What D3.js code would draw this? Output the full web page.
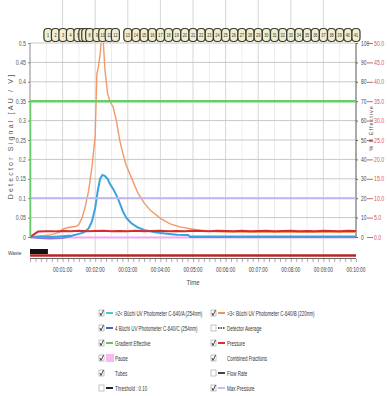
<!DOCTYPE html>
<html>
<head>
<meta charset="utf-8">
<script src="https://cdn.jsdelivr.net/npm/d3@7"></script>
<style>
  body { margin: 0; background: #fff; }
  text { font-family: 'Liberation Sans', Arial, sans-serif; }
</style>
</head>
<body>
<svg id="chart" width="388" height="396"></svg>
<script>
// ---- data (time in minutes) ----
const orangeT = [0, 0.3, 0.6, 0.9, 1.0, 1.2, 1.4, 1.5, 1.6, 1.7, 1.8, 1.9, 2.0, 2.05, 2.1, 2.15, 2.2, 2.25, 2.3, 2.38, 2.45, 2.55, 2.65, 2.75, 2.85, 2.95, 3.1, 3.3, 3.5, 3.7, 4.0, 4.3, 4.6, 5.0, 5.5, 6.0, 7.0, 8.0, 9.0, 10.0];
const orangeV = [0, 0.002, 0.005, 0.012, 0.02, 0.025, 0.027, 0.032, 0.05, 0.08, 0.12, 0.18, 0.26, 0.42, 0.44, 0.47, 0.52, 0.5, 0.43, 0.37, 0.35, 0.335, 0.30, 0.25, 0.215, 0.185, 0.155, 0.115, 0.088, 0.068, 0.048, 0.034, 0.026, 0.02, 0.015, 0.013, 0.012, 0.012, 0.012, 0.012];

const blueT = [0, 0.3, 0.6, 1.0, 1.3, 1.5, 1.65, 1.8, 1.9, 2.0, 2.08, 2.15, 2.22, 2.3, 2.38, 2.45, 2.55, 2.65, 2.75, 2.85, 2.95, 3.1, 3.3, 3.5, 3.8, 4.0, 4.5, 4.85, 4.9, 10.0];
const blueV = [0, 0.001, 0.0, 0.002, 0.004, 0.008, 0.012, 0.022, 0.04, 0.075, 0.12, 0.15, 0.16, 0.157, 0.15, 0.137, 0.124, 0.108, 0.088, 0.066, 0.05, 0.036, 0.025, 0.018, 0.013, 0.01, 0.006, 0.005, 0.001, 0.001];

// C-640/C trace: only visible off-peak (hidden under the A trace in the middle)
const darkBlueT = [0, 0.3, 0.6, 1.0, 1.3, 4.85, 4.9, 6.0, 8.0, 10.0];
const darkBlueV = [0, -0.003, -0.004, -0.003, 0.003, null, 0.0, 0.0, 0.0, 0.0];

// pressure in bar (right outer axis 0-50)
const pressT = [0, 0.25, 0.5, 0.75, 1.0, 1.25, 1.5, 1.75, 2.0, 2.25, 2.5, 2.75, 3.0, 3.25, 3.5, 3.75, 4.0, 4.25, 4.5, 4.75, 5.0, 5.25, 5.5, 5.75, 6.0, 6.25, 6.5, 6.75, 7.0, 7.25, 7.5, 7.75, 8.0, 8.25, 8.5, 8.75, 9.0, 9.25, 9.5, 9.75, 10.0];
const pressV = [0, 1.4, 1.5, 1.45, 1.55, 1.5, 1.6, 1.5, 1.55, 1.6, 1.5, 1.55, 1.5, 1.6, 1.5, 1.55, 1.6, 1.5, 1.55, 1.5, 1.6, 1.55, 1.5, 1.6, 1.55, 1.5, 1.6, 1.5, 1.55, 1.6, 1.5, 1.55, 1.6, 1.5, 1.55, 1.5, 1.6, 1.55, 1.5, 1.6, 1.55];

const gradT = [0, 0, 10];
const gradV = [0, 70, 70];
const maxPressT = [0, 10];
const maxPressV = [10, 10];
const pauseT = [0, 10];
const pauseV = [-0.001, -0.001];
const wasteT = [0, 0.55];

const tubeNames = d3.range(1, 42).map(String);
const tubeT = [0.55, 0.78, 1.01, 1.24, 1.47, 1.62, 1.71, 1.83, 2.05, 2.23, 2.43, 2.62, 3.0, 3.25, 3.5, 3.75, 4.0, 4.25, 4.5, 4.75, 5.0, 5.25, 5.5, 5.75, 6.0, 6.25, 6.5, 6.75, 7.0, 7.25, 7.5, 7.75, 8.0, 8.25, 8.5, 8.75, 9.0, 9.25, 9.5, 9.75, 10.0];

const yTicks = [0, 0.05, 0.1, 0.15, 0.2, 0.25, 0.3, 0.35, 0.4, 0.45, 0.5];
const yTickLabels = ["0", "0.05", "0.1", "0.15", "0.2", "0.25", "0.3", "0.35", "0.4", "0.45", "0.5"];
const pctTicks = [0, 10, 20, 30, 40, 50, 60, 70, 80, 90, 100];
const pressTicks = [0, 5, 10, 15, 20, 25, 30, 35, 40, 45, 50];
const pressTickLabels = ["0.0", "5.0", "10.0", "15.0", "20.0", "25.0", "30.0", "35.0", "40.0", "45.0", "50.0"];
const timeTicks = [1, 2, 3, 4, 5, 6, 7, 8, 9, 10];
const timeTickLabels = ["00:01:00", "00:02:00", "00:03:00", "00:04:00", "00:05:00", "00:06:00", "00:07:00", "00:08:00", "00:09:00", "00:10:00"];

const legendLeft = [
  { label: ">2< Büchi UV Photometer C-640/A (254nm)", checked: true, kind: "line", color: "#4cc6e0" },
  { label: "4 Büchi UV Photometer C-640/C (254nm)", checked: true, kind: "line", color: "#3a6bb5" },
  { label: "Gradient Effective", checked: true, kind: "line", color: "#66c466" },
  { label: "Pause", checked: true, kind: "box", color: "#f7b8f7" },
  { label: "Tubes", checked: true, kind: "none" },
  { label: "Threshold : 0.10", checked: false, kind: "line", color: "#222" }
];
const legendRight = [
  { label: ">3< Büchi UV Photometer C-640/B (220nm)", checked: true, kind: "line", color: "#f0955a" },
  { label: "Detector Average", checked: false, kind: "dash", color: "#223" },
  { label: "Pressure", checked: true, kind: "line", color: "#d83030" },
  { label: "Combined Fractions", checked: true, kind: "none" },
  { label: "Flow Rate", checked: false, kind: "line", color: "#444" },
  { label: "Max Pressure", checked: true, kind: "line", color: "#c4bcf2" }
];

// ---- scales ----
const plotL = 30, plotR = 356, plotT = 43, plotB = 237;
const svg = d3.select("#chart");
const x = d3.scaleLinear().domain([0, 10]).range([plotL, plotR]);
const y = d3.scaleLinear().domain([0, 0.5]).range([plotB, plotT]);
const yPct = d3.scaleLinear().domain([0, 100]).range([plotB, plotT]);
const yPress = d3.scaleLinear().domain([0, 50]).range([plotB, plotT]);

// squeeze text horizontally (the original uses a narrow UI font)
function condense(sel, f) {
  sel.each(function () {
    const w = this.getComputedTextLength();
    if (w > 0) d3.select(this).attr("textLength", w * f).attr("lengthAdjust", "spacingAndGlyphs");
  });
}

// grid
const halfMin = d3.range(0.5, 10, 1);
svg.append("g").selectAll("line").data(halfMin).join("line")
  .attr("x1", d => x(d)).attr("x2", d => x(d)).attr("y1", plotT).attr("y2", plotB)
  .attr("stroke", "#ededed").attr("stroke-width", 1);
svg.append("g").selectAll("line").data(d3.range(1, 10)).join("line")
  .attr("x1", d => x(d)).attr("x2", d => x(d)).attr("y1", 0).attr("y2", 259)
  .attr("stroke", "#d6d6d6").attr("stroke-width", 1);
svg.append("g").selectAll("line").data(yTicks.slice(1)).join("line")
  .attr("x1", plotL).attr("x2", plotR).attr("y1", d => y(d)).attr("y2", d => y(d))
  .attr("stroke", "#c8c8c8").attr("stroke-width", 1);

// axes lines
svg.append("line").attr("x1", plotL).attr("x2", plotL).attr("y1", plotT).attr("y2", plotB).attr("stroke", "#8a8a8a");
svg.append("line").attr("x1", plotR).attr("x2", plotR).attr("y1", plotT).attr("y2", plotB).attr("stroke", "#555");

// clip
svg.append("clipPath").attr("id", "clip").append("rect")
  .attr("x", plotL).attr("y", plotT).attr("width", plotR - plotL).attr("height", plotB - plotT + 4);
const plot = svg.append("g").attr("clip-path", "url(#clip)");

const lineAU = d3.line().defined(d => d[1] !== null).x(d => x(d[0])).y(d => y(d[1]));
const zip = (a, b) => a.map((t, i) => [t, b[i]]);

plot.append("path").datum(zip(pauseT, pauseV)).attr("d", lineAU)
  .attr("fill", "none").attr("stroke", "#f4a8f4").attr("stroke-width", 2);
plot.append("path").datum(zip(darkBlueT, darkBlueV)).attr("d", lineAU)
  .attr("fill", "none").attr("stroke", "#8878e0").attr("stroke-width", 1.8);
plot.append("path").datum(zip(orangeT, orangeV)).attr("d", lineAU)
  .attr("fill", "none").attr("stroke", "#f39a68").attr("stroke-width", 1.4);
plot.append("path").datum(zip(blueT, blueV)).attr("d", lineAU)
  .attr("fill", "none").attr("stroke", "#3aa2dc").attr("stroke-width", 2);
plot.append("path").datum(zip(pressT, pressV))
  .attr("d", d3.line().x(d => x(d[0])).y(d => yPress(d[1])))
  .attr("fill", "none").attr("stroke", "#d62c2c").attr("stroke-width", 2);
plot.append("path").datum(zip(maxPressT, maxPressV))
  .attr("d", d3.line().x(d => x(d[0])).y(d => yPress(d[1])))
  .attr("fill", "none").attr("stroke", "#bfb6f0").attr("stroke-width", 2);
plot.append("path").datum(zip(gradT, gradV))
  .attr("d", d3.line().x(d => x(d[0])).y(d => yPct(d[1])))
  .attr("fill", "none").attr("stroke", "#6acb6a").attr("stroke-width", 2.5);

// left axis
const gl = svg.append("g").attr("transform", `translate(${plotL},0)`)
  .call(d3.axisLeft(y).tickValues(yTicks).tickFormat((d, i) => yTickLabels[i]).tickSize(2).tickPadding(2));
gl.select(".domain").remove();
gl.selectAll("line").attr("stroke", "#888");
gl.selectAll("text").attr("font-size", 6.5).attr("fill", "#555").call(condense, 0.8);

// right inner axis (%B)
const gr = svg.append("g").attr("transform", `translate(${plotR},0)`)
  .call(d3.axisRight(yPct).tickValues(pctTicks).tickSize(2).tickPadding(3));
gr.select(".domain").remove();
gr.selectAll("line").attr("stroke", "#666");
gr.selectAll("text").attr("font-size", 6.5).attr("fill", "#444").call(condense, 0.75);

// right outer axis (pressure)
const gp = svg.append("g").attr("transform", `translate(367,0)`)
  .call(d3.axisRight(yPress).tickValues(pressTicks).tickFormat((d, i) => pressTickLabels[i]).tickSize(6).tickPadding(1));
gp.select(".domain").remove();
gp.selectAll("line").attr("stroke", "#b07070");
gp.selectAll("text").attr("font-size", 6.5).attr("fill", "#d05a5a").call(condense, 0.8);

svg.append("text").attr("transform", "translate(373,128) rotate(-90)")
  .attr("text-anchor", "middle").attr("font-size", 5.5).attr("letter-spacing", 1)
  .attr("fill", "#555").text("% B Effective");
svg.append("text").attr("transform", "translate(13,136) rotate(-90)")
  .attr("text-anchor", "middle").attr("font-size", 7).attr("letter-spacing", 2.2)
  .attr("fill", "#555").text("Detector Signal [AU / V]");

// waste / fraction collector track
svg.append("text").attr("x", 8).attr("y", 255).attr("font-size", 6).attr("fill", "#444").text("Waste").call(condense, 0.8);
svg.append("rect").attr("x", x(wasteT[0])).attr("y", 249).attr("width", x(wasteT[1]) - x(wasteT[0])).attr("height", 5).attr("fill", "#111");
svg.append("line").attr("x1", x(0)).attr("x2", x(10)).attr("y1", 255.5).attr("y2", 255.5).attr("stroke", "#b82424").attr("stroke-width", 2.5);
svg.append("line").attr("x1", x(0)).attr("x2", x(10)).attr("y1", 258.5).attr("y2", 258.5).attr("stroke", "#666").attr("stroke-width", 1);

// bottom axis
const gb = svg.append("g").attr("transform", "translate(0,259)")
  .call(d3.axisBottom(x).tickValues(d3.range(0, 10.001, 1 / 6)).tickSize(3).tickFormat(""));
gb.select(".domain").remove();
gb.selectAll("line").attr("stroke", "#aaa");
svg.append("g").selectAll("text").data(timeTicks).join("text")
  .attr("x", d => x(d)).attr("y", 272).attr("text-anchor", "middle")
  .attr("font-size", 6.3).attr("fill", "#444").text((d, i) => timeTickLabels[i]).call(condense, 0.78);
svg.append("text").attr("x", x(5)).attr("y", 285).attr("text-anchor", "middle")
  .attr("font-size", 7).attr("fill", "#444").text("Time").call(condense, 0.85);

// tube labels
const tubes = svg.append("g");
tubeT.forEach((t, i) => {
  const g = tubes.append("g").attr("transform", `translate(${x(t)},35)`);
  g.append("rect").attr("x", -4).attr("y", -6.5).attr("width", 8).attr("height", 13).attr("rx", 3.5)
    .attr("fill", "#f1edd0").attr("stroke", "#3b3b2c").attr("stroke-width", 1.2);
  g.append("text").attr("y", 2).attr("text-anchor", "middle").attr("font-size", 5)
    .attr("fill", "#333").text(tubeNames[i]).call(condense, 0.75);
});

// legend
const rowsY = [314, 329, 344, 359, 374, 389];
function drawLegend(items, cx) {
  items.forEach((it, i) => {
    const g = svg.append("g").attr("transform", `translate(${cx},${rowsY[i]})`);
    g.append("rect").attr("x", 0).attr("y", -4).attr("width", 5).attr("height", 6)
      .attr("fill", "#fff").attr("stroke", "#aaa").attr("stroke-width", 0.7);
    if (it.checked) {
      g.append("path").attr("d", "M1,-1 L2,1.5 L4.5,-4").attr("fill", "none").attr("stroke", "#333").attr("stroke-width", 0.9);
    }
    if (it.kind === "line") {
      g.append("line").attr("x1", 7).attr("x2", 14).attr("y1", -1).attr("y2", -1).attr("stroke", it.color).attr("stroke-width", 2);
    } else if (it.kind === "dash") {
      g.append("line").attr("x1", 7).attr("x2", 14).attr("y1", -1).attr("y2", -1).attr("stroke", it.color).attr("stroke-width", 1.5).attr("stroke-dasharray", "1.5,1");
    } else if (it.kind === "box") {
      g.append("rect").attr("x", 7).attr("y", -5).attr("width", 8).attr("height", 8).attr("fill", it.color);
    }
    g.append("text").attr("transform", "translate(16,1.5) scale(0.68,1)")
      .attr("font-size", 6.6).attr("fill", "#333").text(it.label);
  });
}
drawLegend(legendLeft, 99);
drawLegend(legendRight, 211);
</script>
</body>
</html>
